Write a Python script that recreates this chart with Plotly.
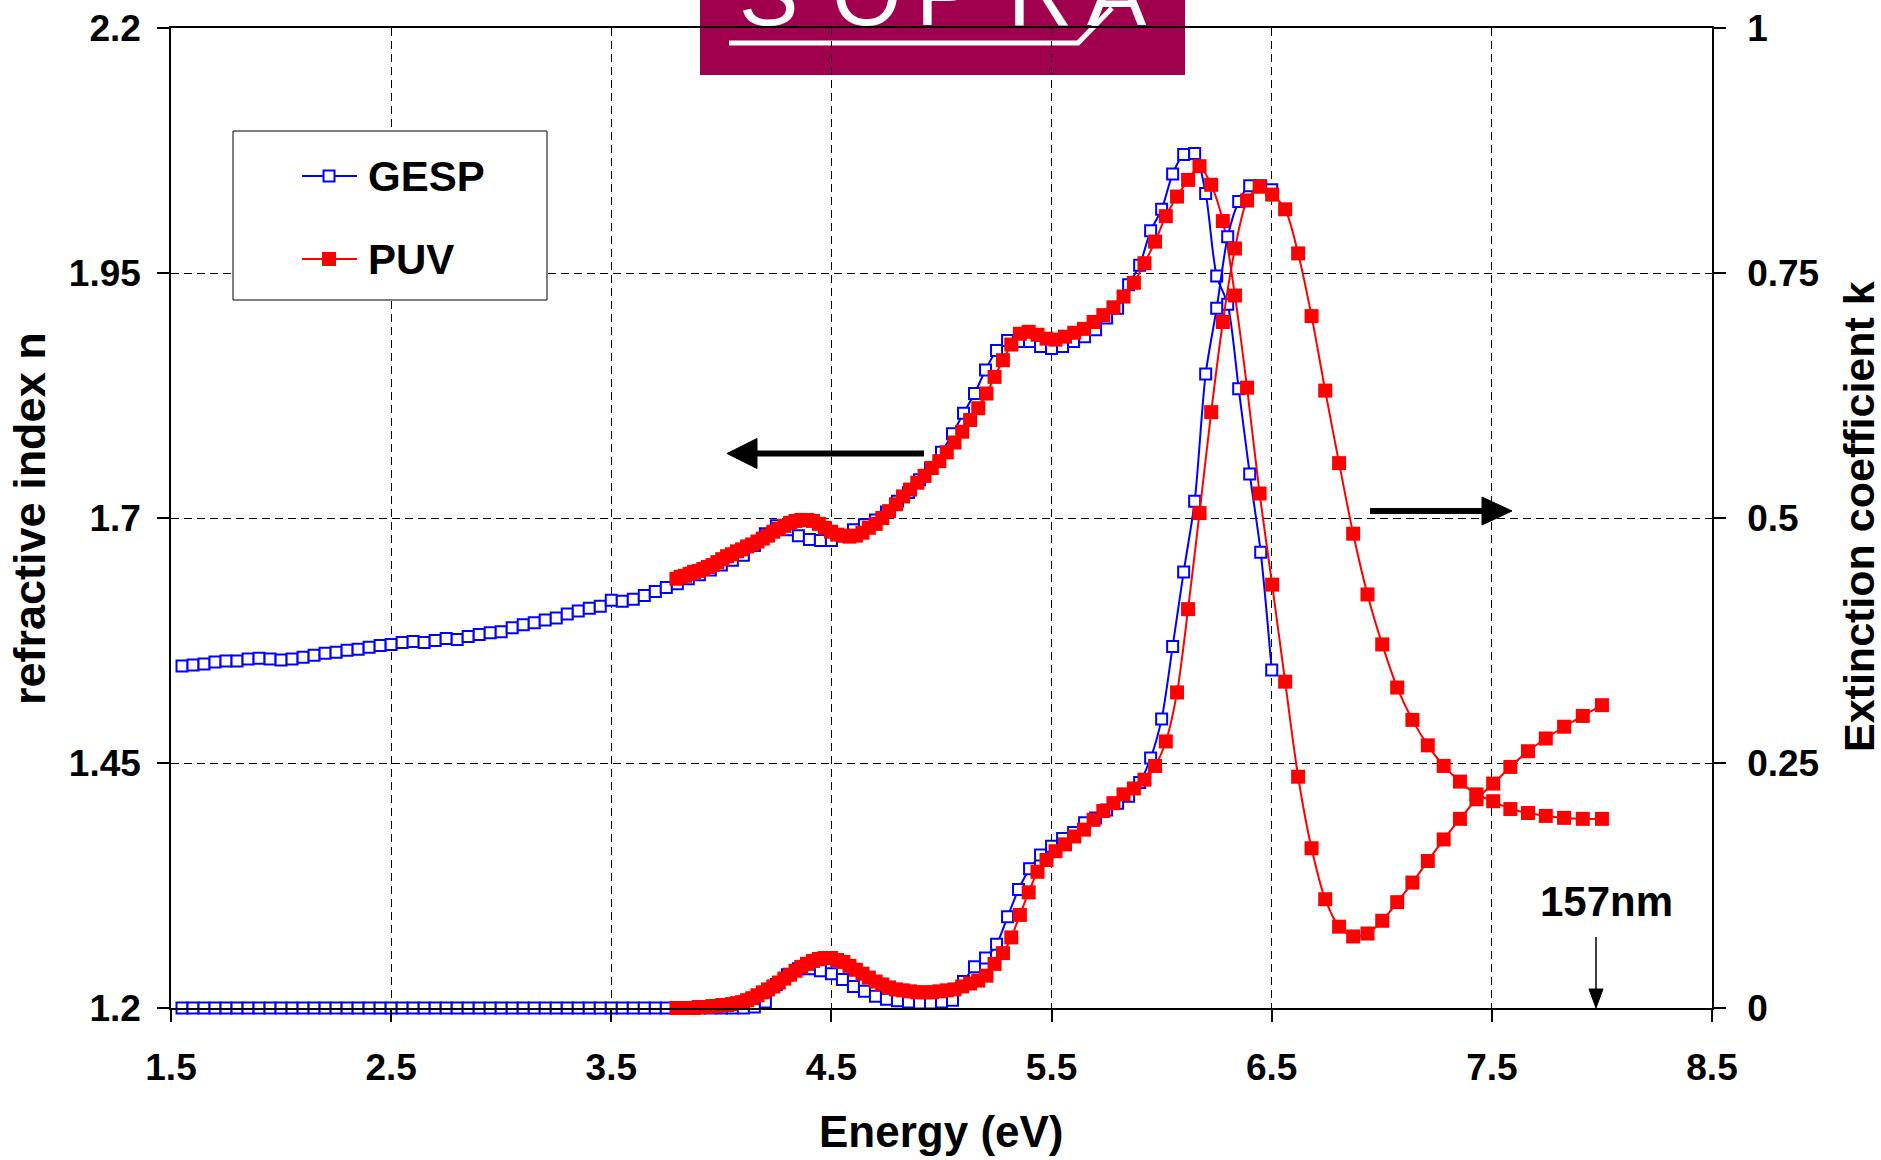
import plotly.graph_objects as go

# ---------------- data ----------------
gesp_energy = [
    1.55, 1.60, 1.65, 1.70, 1.75, 1.80, 1.85, 1.90, 1.95, 2.00,
    2.05, 2.10, 2.15, 2.20, 2.25, 2.30, 2.35, 2.40, 2.45, 2.50,
    2.55, 2.60, 2.65, 2.70, 2.75, 2.80, 2.85, 2.90, 2.95, 3.00,
    3.05, 3.10, 3.15, 3.20, 3.25, 3.30, 3.35, 3.40, 3.45, 3.50,
    3.55, 3.60, 3.65, 3.70, 3.75, 3.80, 3.85, 3.90, 3.95, 4.00,
    4.05, 4.10, 4.15, 4.20, 4.25, 4.30, 4.35, 4.40, 4.45, 4.50,
    4.55, 4.60, 4.65, 4.70, 4.75, 4.80, 4.85, 4.90, 4.95, 5.00,
    5.05, 5.10, 5.15, 5.20, 5.25, 5.30, 5.35, 5.40, 5.45, 5.50,
    5.55, 5.60, 5.65, 5.70, 5.75, 5.80, 5.85, 5.90, 5.95, 6.00,
    6.05, 6.10, 6.15, 6.20, 6.25, 6.30, 6.35, 6.40, 6.45, 6.50,
]
gesp_n = [
    1.549, 1.550, 1.551, 1.553, 1.554, 1.554, 1.556, 1.557, 1.556, 1.555,
    1.556, 1.558, 1.560, 1.562, 1.563, 1.565, 1.566, 1.568, 1.570, 1.571,
    1.573, 1.574, 1.573, 1.575, 1.577, 1.576, 1.579, 1.581, 1.583, 1.584,
    1.588, 1.591, 1.593, 1.596, 1.598, 1.602, 1.605, 1.608, 1.610, 1.616,
    1.615, 1.617, 1.621, 1.625, 1.629, 1.633, 1.638, 1.642, 1.647, 1.652,
    1.657, 1.662, 1.672, 1.684, 1.692, 1.688, 1.682, 1.678, 1.677, 1.677,
    1.682, 1.688, 1.693, 1.698, 1.706, 1.717, 1.726, 1.739, 1.751, 1.767,
    1.786, 1.807, 1.827, 1.851, 1.871, 1.881, 1.880, 1.880, 1.875, 1.873,
    1.875, 1.880, 1.885, 1.892, 1.904, 1.914, 1.938, 1.958, 1.993, 2.015,
    2.051, 2.071, 2.072, 2.031, 1.947, 1.918, 1.832, 1.745, 1.665, 1.545,
]
gesp_k = [
    0.0, 0.0, 0.0, 0.0, 0.0, 0.0, 0.0, 0.0, 0.0, 0.0,
    0.0, 0.0, 0.0, 0.0, 0.0, 0.0, 0.0, 0.0, 0.0, 0.0,
    0.0, 0.0, 0.0, 0.0, 0.0, 0.0, 0.0, 0.0, 0.0, 0.0,
    0.0, 0.0, 0.0, 0.0, 0.0, 0.0, 0.0, 0.0, 0.0, 0.0,
    0.0, 0.0, 0.0, 0.0, 0.0, 0.0, 0.0, 0.0, 0.0, 0.0,
    0.0, 0.0, 0.001, 0.006, 0.024, 0.034, 0.040, 0.040, 0.038, 0.035,
    0.029, 0.022, 0.017, 0.012, 0.009, 0.0075, 0.006, 0.005, 0.005, 0.006,
    0.008, 0.027, 0.042, 0.051, 0.065, 0.093, 0.121, 0.142, 0.156, 0.165,
    0.173, 0.179, 0.189, 0.194, 0.202, 0.209, 0.216, 0.230, 0.255, 0.295,
    0.369, 0.445, 0.517, 0.647, 0.714, 0.787, 0.823, 0.839, 0.839, 0.835,
]

puv_energy = [
    3.796, 3.815, 3.835, 3.856, 3.876, 3.897, 3.918, 3.939, 3.960, 3.982,
    4.004, 4.026, 4.048, 4.071, 4.094, 4.117, 4.140, 4.164, 4.188, 4.212,
    4.236, 4.261, 4.286, 4.312, 4.337, 4.363, 4.389, 4.416, 4.443, 4.470,
    4.498, 4.526, 4.554, 4.582, 4.611, 4.641, 4.670, 4.701, 4.731, 4.762,
    4.793, 4.825, 4.857, 4.890, 4.923, 4.956, 4.990, 5.024, 5.059, 5.094,
    5.130, 5.167, 5.204, 5.241, 5.279, 5.317, 5.356, 5.396, 5.436, 5.477,
    5.518, 5.561, 5.603, 5.647, 5.691, 5.735, 5.781, 5.827, 5.874, 5.922,
    5.970, 6.019, 6.070, 6.120, 6.172, 6.225, 6.278, 6.333, 6.388, 6.445,
    6.502, 6.561, 6.620, 6.681, 6.743, 6.806, 6.870, 6.935, 7.002, 7.070,
    7.139, 7.209, 7.281, 7.355, 7.430, 7.506, 7.584, 7.664, 7.745, 7.828,
    7.913, 8.000,
]
puv_n = [
    1.638, 1.640, 1.641, 1.643, 1.645, 1.646, 1.648, 1.650, 1.652, 1.655,
    1.658, 1.661, 1.663, 1.666, 1.668, 1.671, 1.673, 1.676, 1.679, 1.682,
    1.686, 1.689, 1.692, 1.695, 1.697, 1.698, 1.698, 1.697, 1.694, 1.690,
    1.686, 1.683, 1.682, 1.681, 1.682, 1.685, 1.690, 1.694, 1.700, 1.707,
    1.714, 1.722, 1.729, 1.736, 1.743, 1.751, 1.758, 1.767, 1.777, 1.788,
    1.800, 1.812, 1.827, 1.844, 1.861, 1.877, 1.888, 1.890, 1.887, 1.883,
    1.882, 1.885, 1.889, 1.893, 1.900, 1.907, 1.915, 1.926, 1.940, 1.960,
    1.982, 2.008, 2.028, 2.045, 2.059, 2.040, 2.003, 1.927, 1.833, 1.725,
    1.632, 1.533, 1.436, 1.363, 1.311, 1.283, 1.273, 1.276, 1.289, 1.308,
    1.328, 1.350, 1.372, 1.393, 1.413, 1.429, 1.446, 1.462, 1.475, 1.487,
    1.498, 1.509,
]
puv_k = [
    0.000, 0.000, 0.000, 0.000, 0.000, 0.001, 0.001, 0.001, 0.002, 0.002,
    0.003, 0.003, 0.004, 0.005, 0.006, 0.008, 0.010, 0.013, 0.016, 0.019,
    0.022, 0.026, 0.030, 0.034, 0.038, 0.042, 0.045, 0.048, 0.050, 0.051,
    0.051, 0.049, 0.047, 0.043, 0.039, 0.035, 0.031, 0.027, 0.024, 0.021,
    0.019, 0.018, 0.017, 0.016, 0.016, 0.016, 0.017, 0.018, 0.019, 0.022,
    0.025, 0.028, 0.033, 0.045, 0.056, 0.072, 0.095, 0.118, 0.139, 0.151,
    0.160, 0.167, 0.175, 0.182, 0.192, 0.201, 0.209, 0.218, 0.224, 0.233,
    0.247, 0.272, 0.322, 0.407, 0.505, 0.608, 0.700, 0.775, 0.824, 0.838,
    0.830, 0.815, 0.770, 0.706, 0.630, 0.556, 0.484, 0.422, 0.371, 0.327,
    0.294, 0.268, 0.247, 0.231, 0.218, 0.211, 0.203, 0.199, 0.196, 0.194,
    0.193, 0.193,
]

x_ticks = [1.5, 2.5, 3.5, 4.5, 5.5, 6.5, 7.5, 8.5]
x_tick_labels = ["1.5", "2.5", "3.5", "4.5", "5.5", "6.5", "7.5", "8.5"]
n_ticks = [1.2, 1.45, 1.7, 1.95, 2.2]
n_tick_labels = ["1.2", "1.45", "1.7", "1.95", "2.2"]
k_ticks = [0, 0.25, 0.5, 0.75, 1]
k_tick_labels = ["0", "0.25", "0.5", "0.75", "1"]

# ---------------- layout helpers ----------------
W, H = 1881, 1160
ML, MR, MT, MB = 171, 169, 28, 152
PW = W - ML - MR
PH = H - MT - MB


def px(x):
    return (x - ML) / PW


def py(y):
    return (H - MB - y) / PH


FONT = "Liberation Sans, Arial, sans-serif"
BLUE = "#0000FF"
RED = "#FF0000"

fig = go.Figure()

spline = dict(shape="spline", smoothing=0.8)

fig.add_trace(go.Scatter(
    x=gesp_energy, y=gesp_n, mode="lines+markers", name="GESP",
    line=dict(color=BLUE, width=2, **spline),
    marker=dict(symbol="square", size=11, color="white", line=dict(color=BLUE, width=2)),
    yaxis="y", cliponaxis=False, showlegend=False))
fig.add_trace(go.Scatter(
    x=gesp_energy, y=gesp_k, mode="lines+markers", name="GESP k",
    line=dict(color=BLUE, width=2, **spline),
    marker=dict(symbol="square", size=11, color="white", line=dict(color=BLUE, width=2)),
    yaxis="y2", cliponaxis=False, showlegend=False))
fig.add_trace(go.Scatter(
    x=puv_energy, y=puv_n, mode="lines+markers", name="PUV",
    line=dict(color=RED, width=2, **spline),
    marker=dict(symbol="square", size=14, color=RED, line=dict(width=0)),
    yaxis="y", cliponaxis=False, showlegend=False))
fig.add_trace(go.Scatter(
    x=puv_energy, y=puv_k, mode="lines+markers", name="PUV k",
    line=dict(color=RED, width=2, **spline),
    marker=dict(symbol="square", size=14, color=RED, line=dict(width=0)),
    yaxis="y2", cliponaxis=False, showlegend=False))

tickfont = dict(family=FONT, size=37, color="black", weight="bold")
axis_common = dict(
    ticks="outside", ticklen=12, tickwidth=1.5, tickcolor="black",
    showline=True, linecolor="black", linewidth=1.5,
    zeroline=False, tickfont=tickfont,
)

fig.update_layout(
    width=W, height=H,
    margin=dict(l=ML, r=MR, t=MT, b=MB, pad=0, autoexpand=False),
    paper_bgcolor="white", plot_bgcolor="white",
    showlegend=False,
    xaxis=dict(range=[1.5, 8.5], tickmode="array", tickvals=x_ticks, ticktext=x_tick_labels,
               showgrid=True, gridcolor="black", gridwidth=1, griddash="8px,5px",
               mirror=True, ticklabelstandoff=14, **axis_common),
    yaxis=dict(range=[1.2, 2.2], tickmode="array", tickvals=n_ticks, ticktext=n_tick_labels,
               showgrid=True, gridcolor="black", gridwidth=1, griddash="8px,5px",
               ticklabelstandoff=9, **axis_common),
    yaxis2=dict(range=[0, 1], tickmode="array", tickvals=k_ticks, ticktext=k_tick_labels,
                overlaying="y", side="right", showgrid=False,
                ticklabelstandoff=14, **axis_common),
)

shapes = []
annotations = []

# logo box (below grid)
shapes.append(dict(type="rect", xref="paper", yref="paper", layer="below",
                   x0=px(700), x1=px(1185), y0=py(75), y1=py(-5),
                   fillcolor="#A0004E", line=dict(width=0)))
shapes.append(dict(type="path", xref="paper", yref="paper", layer="below",
                   path=f"M {px(729)},{py(43)} L {px(1078)},{py(43)} L {px(1112)},{py(8)}",
                   line=dict(color="white", width=5)))
for letter, cx in [("S", 768), ("O", 866), ("P", 945), ("R", 1040), ("A", 1117)]:
    annotations.append(dict(text=letter, xref="paper", yref="paper", x=px(cx), y=py(-6),
                            xanchor="center", yanchor="middle", showarrow=False,
                            font=dict(family=FONT, size=89, color="white")))

# legend (drawn manually)
shapes.append(dict(type="rect", xref="paper", yref="paper", layer="above",
                   x0=px(233), x1=px(547), y0=py(300), y1=py(131),
                   fillcolor="white", line=dict(color="black", width=1)))
shapes.append(dict(type="line", xref="paper", yref="paper", layer="above",
                   x0=px(302), x1=px(357), y0=py(176), y1=py(176),
                   line=dict(color=BLUE, width=2)))
shapes.append(dict(type="rect", xref="paper", yref="paper", layer="above",
                   x0=px(323.5), x1=px(334.5), y0=py(181.5), y1=py(170.5),
                   fillcolor="white", line=dict(color=BLUE, width=2)))
shapes.append(dict(type="line", xref="paper", yref="paper", layer="above",
                   x0=px(302), x1=px(357), y0=py(259), y1=py(259),
                   line=dict(color=RED, width=2)))
shapes.append(dict(type="rect", xref="paper", yref="paper", layer="above",
                   x0=px(322), x1=px(336), y0=py(266), y1=py(252),
                   fillcolor=RED, line=dict(width=0)))
annotations.append(dict(text="<b>GESP</b>", xref="paper", yref="paper", x=px(366), y=py(176),
                        xanchor="left", yanchor="middle", showarrow=False,
                        font=dict(family=FONT, size=42, color="black")))
annotations.append(dict(text="<b>PUV</b>", xref="paper", yref="paper", x=px(366), y=py(259),
                        xanchor="left", yanchor="middle", showarrow=False,
                        font=dict(family=FONT, size=42, color="black")))

# direction arrows
shapes.append(dict(type="line", xref="paper", yref="paper", layer="above",
                   x0=px(924), x1=px(755), y0=py(453.5), y1=py(453.5),
                   line=dict(color="black", width=6)))
shapes.append(dict(type="path", xref="paper", yref="paper", layer="above",
                   path=f"M {px(757)},{py(438.5)} L {px(757)},{py(468.5)} L {px(727)},{py(453.5)} Z",
                   fillcolor="black", line=dict(color="black", width=1)))
shapes.append(dict(type="line", xref="paper", yref="paper", layer="above",
                   x0=px(1370), x1=px(1484), y0=py(511), y1=py(511),
                   line=dict(color="black", width=6)))
shapes.append(dict(type="path", xref="paper", yref="paper", layer="above",
                   path=f"M {px(1482)},{py(497)} L {px(1482)},{py(525)} L {px(1512)},{py(511)} Z",
                   fillcolor="black", line=dict(color="black", width=1)))

# 157 nm marker
shapes.append(dict(type="line", xref="paper", yref="paper", layer="above",
                   x0=px(1596), x1=px(1596), y0=py(937), y1=py(990),
                   line=dict(color="black", width=1.5)))
shapes.append(dict(type="path", xref="paper", yref="paper", layer="above",
                   path=f"M {px(1589)},{py(989)} L {px(1603)},{py(989)} L {px(1596)},{py(1008)} Z",
                   fillcolor="black", line=dict(color="black", width=1)))
annotations.append(dict(text="<b>157nm</b>", xref="paper", yref="paper", x=px(1606), y=py(901),
                        xanchor="center", yanchor="middle", showarrow=False,
                        font=dict(family=FONT, size=42, color="black")))

# axis titles
annotations.append(dict(text="<b>Energy (eV)</b>", xref="paper", yref="paper", x=px(941.5), y=py(1131),
                        xanchor="center", yanchor="middle", showarrow=False,
                        font=dict(family=FONT, size=44, color="black")))
annotations.append(dict(text="<b>refractive index n</b>", xref="paper", yref="paper", x=px(29), y=py(519),
                        xanchor="center", yanchor="middle", showarrow=False, textangle=-90,
                        font=dict(family=FONT, size=45, color="black")))
annotations.append(dict(text="<b>Extinction coefficient k</b>", xref="paper", yref="paper", x=px(1859), y=py(517),
                        xanchor="center", yanchor="middle", showarrow=False, textangle=-90,
                        font=dict(family=FONT, size=43, color="black")))

fig.update_layout(shapes=shapes, annotations=annotations)

fig.write_html("out.html")
